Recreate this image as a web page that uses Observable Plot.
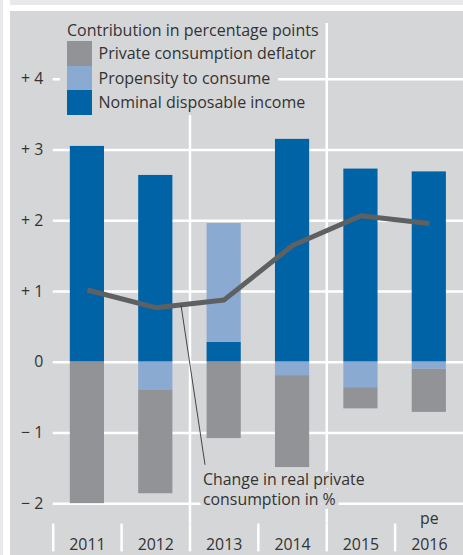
<!DOCTYPE html>
<html><head><meta charset="utf-8">
<script src="https://cdn.jsdelivr.net/npm/d3@7"></script>
<script src="https://cdn.jsdelivr.net/npm/@observablehq/plot@0.6"></script>
<style>
html,body{margin:0;padding:0;background:#fff;width:463px;height:555px;overflow:hidden;font-family:"Open Sans",sans-serif;color:#333;}
#lstrip{position:absolute;left:0;top:0;width:3px;height:555px;background:#e9e9ec;}
#tstrip{position:absolute;left:10px;top:0;width:453px;height:5px;background:#e9e9ec;}
#panel{position:absolute;left:10px;top:11px;width:453px;height:544px;background:#d5d6d8;overflow:hidden;}
#chart{position:absolute;left:0;top:0;}
#legend{position:absolute;left:50px;top:9px;}
.lt{width:fit-content;height:21px;line-height:21px;padding:0 4px 0 7px;background:#d5d6d8;font-size:16px;}
.lr{display:flex;width:fit-content;height:24.5px;align-items:center;background:#d5d6d8;padding-right:8px;}
.sw{width:25px;height:100%;margin-left:7px;}
.lx{margin-left:6.5px;font-size:16px;}
</style></head>
<body>
<div id="lstrip"></div><div id="tstrip"></div>
<div id="panel"><div id="chart"></div><div id="legend"></div></div>
<script>
// ---- data ----
const years = [2011, 2012, 2013, 2014, 2015, 2016];
const income = [3.05, 2.64, 0.28, 3.15, 2.73, 2.69];
const propensity = [0.00, -0.40, 1.68, -0.19, -0.36, -0.10];
const deflator = [-2.00, -1.46, -1.08, -1.30, -0.30, -0.61];
const realChange = [1.02, 0.77, 0.88, 1.65, 2.07, 1.96];
const seriesNames = ["Private consumption deflator", "Propensity to consume", "Nominal disposable income"];
const seriesColors = ["#929396", "#8aaad2", "#0063a6"];
const legendTitle = "Contribution in percentage points";
const yTicks = [-2, -1, 0, 1, 2, 3, 4];
const yTickLabels = ["− 2", "− 1", "0", "+ 1", "+ 2", "+ 3", "+ 4"];
const yearDividers = [2010.5, 2011.5, 2012.5, 2013.5, 2014.5, 2015.5];
const groupDividers = [2012.5, 2014.5];
const forecastYears = [2016];
const forecastLabels = ["pe"];
const annotationText = ["Change in real private\nconsumption in %"];
const annotationX = [2012.69];
const annotationY = [-1.54];
const leaderX1 = [2012.37], leaderY1 = [0.80], leaderX2 = [2012.72], leaderY2 = [-1.45];

// ---- build stacks ----
const stackOrder = [[income, seriesNames[2]], [propensity, seriesNames[1]], [deflator, seriesNames[0]]];
const rects = [];
years.forEach((yr, i) => {
  let pos = 0, neg = 0;
  for (const [arr, name] of stackOrder) {
    const v = arr[i];
    if (v === 0) continue;
    if (v > 0) { rects.push({year: yr, series: name, y1: pos, y2: pos + v}); pos += v; }
    else { rects.push({year: yr, series: name, y1: neg, y2: neg + v}); neg += v; }
  }
});
const lineData = years.map((yr, i) => ({year: yr, v: realChange[i]}));
const leader = [{x1: leaderX1[0], y1: leaderY1[0], x2: leaderX2[0], y2: leaderY2[0]}];
const barHalf = 0.25;
const panelColor = "#d5d6d8";

const chart = Plot.plot({
  width: 456, height: 544,
  marginLeft: 43, marginRight: 0, marginTop: 12, marginBottom: 28,
  style: {background: "transparent", fontFamily: "Open Sans", fontSize: "16px", color: "#333", overflow: "visible"},
  x: {domain: [2010.5, 2016.5]},
  y: {domain: [-2.289, 4.789]},
  color: {domain: seriesNames, range: seriesColors},
  marks: [
    Plot.ruleY(yTicks, {stroke: "#fff", strokeWidth: 2.5}),
    Plot.ruleX(groupDividers, {stroke: "#fff", strokeWidth: 2.5}),
    Plot.axisY({ticks: yTicks, tickFormat: d => yTickLabels[yTicks.indexOf(d)], tickSize: 0, tickPadding: 10, fontSize: 16, fill: "#333", label: null}),
    Plot.axisX({ticks: yearDividers, tickSize: 28, stroke: "#fff", strokeWidth: 2.5, tickFormat: () => "", label: null}),
    Plot.axisX({ticks: years, tickSize: 0, tickPadding: 14.5, tickFormat: d => String(d), fontSize: 16, fill: "#333", label: null}),
    Plot.rectY(rects, {x1: d => d.year - barHalf, x2: d => d.year + barHalf, y1: "y1", y2: "y2", fill: "series"}),
    Plot.line(lineData, {x: "year", y: "v", stroke: "#5f6062", strokeWidth: 5, strokeLinejoin: "miter", strokeLinecap: "butt"}),
    Plot.link(leader, {x1: "x1", y1: "y1", x2: "x2", y2: "y2", stroke: "#333", strokeWidth: 0.9}),
    Plot.text(annotationText, {x: annotationX, y: annotationY, text: d => d, textAnchor: "start", lineAnchor: "top", lineHeight: 1.25, fontSize: 16, fill: "#333", stroke: panelColor, strokeWidth: 8}),
    Plot.text(forecastLabels, {x: forecastYears, frameAnchor: "bottom", lineAnchor: "bottom", text: d => d, fontSize: 16, fill: "#333"})
  ]
});
document.getElementById("chart").appendChild(chart);

// legend (HTML overlay inside the plot area)
const lg = document.getElementById("legend");
const t = document.createElement("div"); t.className = "lt"; t.textContent = legendTitle; lg.appendChild(t);
seriesNames.forEach((n, i) => {
  const r = document.createElement("div"); r.className = "lr";
  const s = document.createElement("div"); s.className = "sw"; s.style.background = seriesColors[i];
  const x = document.createElement("div"); x.className = "lx"; x.textContent = n;
  r.appendChild(s); r.appendChild(x); lg.appendChild(r);
});
</script>
</body></html>
